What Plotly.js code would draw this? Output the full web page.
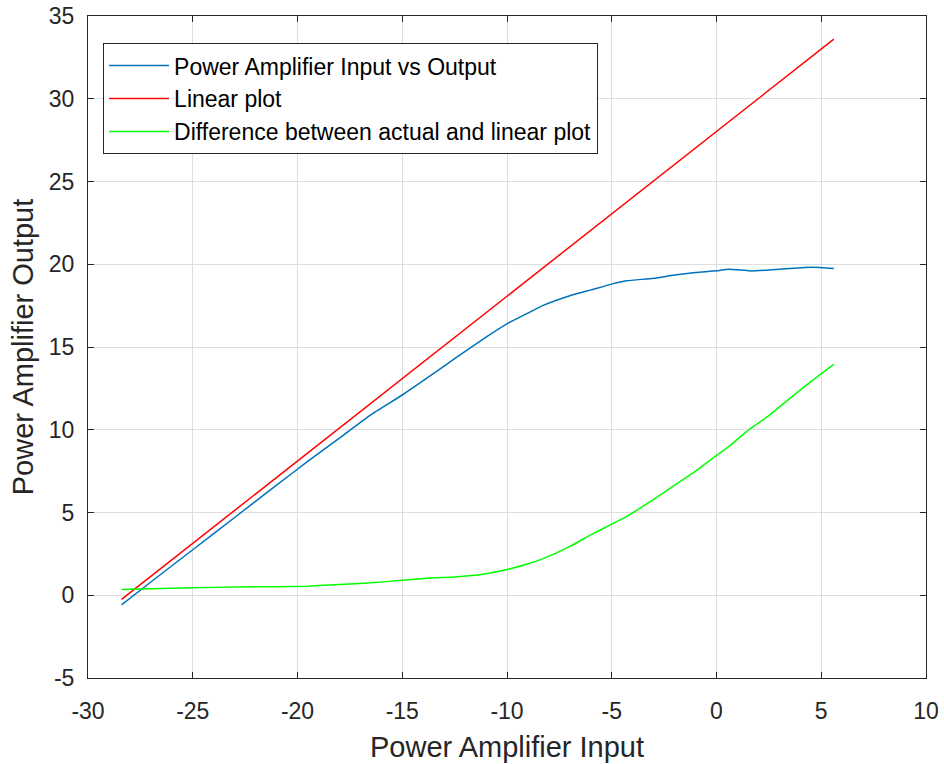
<!DOCTYPE html>
<html>
<head>
<meta charset="utf-8">
<script src="https://cdn.plot.ly/plotly-3.0.1.min.js"></script>
<style>html,body{margin:0;padding:0;background:#fff;}#chart{width:944px;height:764px;}</style>
</head>
<body>
<div id="chart"></div>
<script>
const xActual = [-28.4, -27, -25, -23, -21, -19.5, -18, -16.5, -15, -13.5, -12.5, -11, -10, -9, -8.3, -7, -6, -5, -4.3, -3, -2, -1, 0, 0.6, 1.6, 2.5, 3.5, 4.6, 5.6];
const yActual = [-0.58, 0.8, 2.75, 4.7, 6.65, 8.1, 9.5, 10.9, 12.1, 13.4, 14.3, 15.6, 16.4, 17.05, 17.5, 18.1, 18.45, 18.8, 19.0, 19.15, 19.35, 19.5, 19.6, 19.7, 19.6, 19.65, 19.75, 19.82, 19.75];
const xLinear = [-28.4, 5.6];
const yLinear = [-0.25, 33.6];
const yDiff = [0.35, 0.4, 0.45, 0.5, 0.52, 0.55, 0.65, 0.75, 0.9, 1.05, 1.1, 1.3, 1.55, 1.9, 2.2, 2.95, 3.65, 4.3, 4.75, 5.8, 6.65, 7.5, 8.45, 9.0, 10.05, 10.85, 11.9, 13.0, 13.95];
const names = ['Power Amplifier Input vs Output', 'Linear plot', 'Difference between actual and linear plot'];
const xTicks = [-30, -25, -20, -15, -10, -5, 0, 5, 10];
const yTicks = [-5, 0, 5, 10, 15, 20, 25, 30, 35];

const FONT = 'Liberation Sans, Arial, Helvetica, sans-serif';

const traces = [
  {x: xActual, y: yActual, name: names[0], mode: 'lines', line: {color: '#0072BD', width: 1.5, shape: 'spline', smoothing: 0.5}},
  {x: xLinear, y: yLinear, name: names[1], mode: 'lines', line: {color: '#FF0000', width: 1.5}},
  {x: xActual, y: yDiff, name: names[2], mode: 'lines', line: {color: '#00FF00', width: 1.5, shape: 'spline', smoothing: 0.5}}
];

const axisCommon = {
  showline: true, linecolor: '#262626', linewidth: 1, mirror: 'ticks',
  ticks: 'inside', ticklen: 6, tickcolor: '#262626',
  showgrid: true, gridcolor: '#dedede', gridwidth: 1, zeroline: false,
  tickfont: {family: FONT, size: 23, color: '#262626'}
};

const layout = {
  width: 944, height: 764,
  margin: {l: 88, r: 18, t: 16, b: 86},
  paper_bgcolor: '#fff', plot_bgcolor: '#fff',
  showlegend: true,
  xaxis: Object.assign({}, axisCommon, {
    range: [-30, 10], tickvals: xTicks, ticktext: xTicks.map(String),
    ticklabelstandoff: 12,
    title: {text: 'Power Amplifier Input', font: {family: FONT, size: 29, color: '#262626'}, standoff: 14}
  }),
  yaxis: Object.assign({}, axisCommon, {
    range: [-5, 35], tickvals: yTicks, ticktext: yTicks.map(String),
    ticklabelstandoff: 8,
    title: {text: 'Power Amplifier Output', font: {family: FONT, size: 29, color: '#262626'}, standoff: 6}
  }),
  legend: {
    x: 0.018, y: 0.959, xanchor: 'left', yanchor: 'top',
    bgcolor: '#fff', bordercolor: '#262626', borderwidth: 1,
    font: {family: FONT, size: 23, color: '#000'},
    tracegroupgap: 0, itemwidth: 60
  }
};

Plotly.newPlot('chart', traces, layout, {displayModeBar: false, staticPlot: true});
</script>
</body>
</html>
